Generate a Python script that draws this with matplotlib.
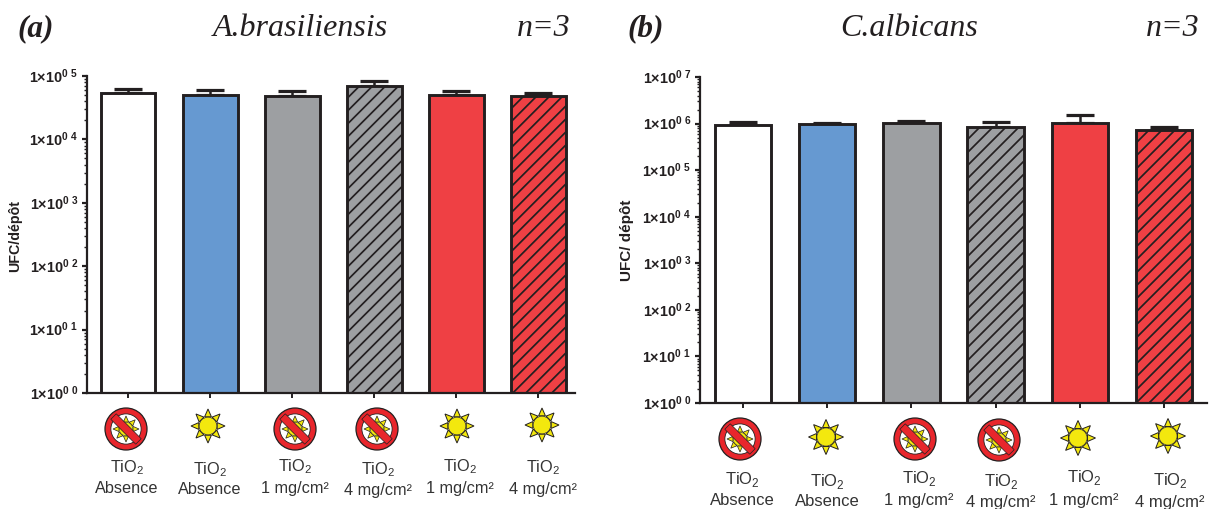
import matplotlib
matplotlib.use("Agg")
import matplotlib.pyplot as plt
import numpy as np
from matplotlib.collections import LineCollection
from matplotlib.patches import Circle, Polygon
from matplotlib.ticker import FixedLocator, NullFormatter
from matplotlib.transforms import Affine2D, IdentityTransform

plt.rcParams['font.family'] = ['Liberation Sans', 'DejaVu Sans']
plt.rcParams['mathtext.fontset'] = 'custom'
plt.rcParams['mathtext.rm'] = 'Liberation Sans'
plt.rcParams['mathtext.bf'] = 'Liberation Sans:bold'

W, H = 1211, 510
EDGE = '#231f20'
BLUE = '#6699d1'
GRAY = '#9d9fa2'
RED = '#ef4044'

# ── Data ───────────────────────────────────────────────────
conc_a = ["Absence", "Absence", "1 mg/cm²", "4 mg/cm²", "1 mg/cm²", "4 mg/cm²"]
conc_b = ["Absence", "Absence", "1 mg/cm²", "4 mg/cm²", "1 mg/cm²", "4 mg/cm²"]
no_light = [True, False, True, True, False, False]
colors = ['white', BLUE, GRAY, GRAY, RED, RED]
hatched = [False, False, False, True, False, True]

values_a = [54000, 50000, 48400, 69700, 50000, 48000]
errtop_a = [63500, 61000, 58000, 83000, 57500, 53500]
values_b = [950000, 1000000, 1020000, 860000, 1020000, 720000]
errtop_b = [1100000, 1030000, 1130000, 1070000, 1550000, 860000]


def px_axes(fig, left, top, right, bottom):
    return fig.add_axes([left / W, 1 - bottom / H, (right - left) / W, (bottom - top) / H])


def draw_sun(ov, cx, cy, r, lw=0.7):
    # 8 spikes then the disk
    for ang in np.arange(0, 360, 45):
        a = np.radians(ang)
        b = np.radians(90)
        tip = (cx + r * np.cos(a), cy + r * np.sin(a))
        base = r * 0.54
        half = r * 0.2
        p1 = (cx + base * np.cos(a) + half * np.cos(a + b), cy + base * np.sin(a) + half * np.sin(a + b))
        p2 = (cx + base * np.cos(a) - half * np.cos(a + b), cy + base * np.sin(a) - half * np.sin(a + b))
        ov.add_patch(Polygon([tip, p1, p2], fc='#f3e80e', ec=EDGE, lw=lw))
    ov.add_patch(Circle((cx, cy), r * 0.52, fc='#f3e80e', ec=EDGE, lw=lw * 0.7))


def draw_no_sun(ov, cx, cy, r):
    ov.add_patch(Circle((cx, cy), r, fc='#e8262c', ec=EDGE, lw=0.9))
    ov.add_patch(Circle((cx, cy), r * 0.72, fc='white', ec=EDGE, lw=0.6))
    draw_sun(ov, cx, cy, r * 0.62, lw=0.5)
    # diagonal stroke, upper left to lower right
    c, w = 0.707 * r * 0.84, 0.13 * r
    ov.add_patch(Polygon([(cx - c + w, cy - c - w), (cx + c + w, cy + c - w),
                          (cx + c - w, cy + c + w), (cx - c - w, cy - c + w)],
                         fc='#e8262c', ec=EDGE, lw=0.5))


def draw_panel(fig, box, xlim, values, errtop, decades):
    ax = px_axes(fig, *box)
    x = np.arange(len(values))
    heights = np.array(values) - 1
    bars = ax.bar(x, heights, bottom=1, width=0.67, color=colors, edgecolor=EDGE, linewidth=2.1, zorder=2)
    ax.errorbar(x, values, yerr=[np.zeros(len(values)), np.array(errtop) - np.array(values)],
                fmt='none', ecolor=EDGE, elinewidth=1.8, capsize=10, capthick=2.3, zorder=1)
    ax.set_yscale('log')
    ax.set_ylim(1, 10 ** decades)
    ax.set_xlim(*xlim)
    ax.set_xticks(x)
    ax.set_xticklabels([])
    ax.set_yticks([10.0 ** k for k in range(decades + 1)])
    ax.set_yticklabels([rf"$\mathbf{{1{{\times}}10^{{0\ {k}}}}}$" for k in range(decades + 1)],
                       fontsize=10.4, color='#231f20')
    minor = [m * 10.0 ** k for k in range(decades) for m in range(2, 10)]
    ax.yaxis.set_minor_locator(FixedLocator(minor))
    ax.yaxis.set_minor_formatter(NullFormatter())
    ax.tick_params(axis='y', which='major', length=3.8, width=1.6, pad=2.5, color=EDGE)
    ax.tick_params(axis='y', which='minor', length=2.3, width=1.0, color=EDGE)
    ax.tick_params(axis='x', length=3.6, width=1.4, color=EDGE)
    # labels sit on the main digits, not on the superscript
    for lab in ax.get_yticklabels():
        lab.set_transform(lab.get_transform() + Affine2D().translate(0, 2))
    for s in ('top', 'right'):
        ax.spines[s].set_visible(False)
    for s in ('left', 'bottom'):
        ax.spines[s].set_linewidth(1.6)
        ax.spines[s].set_color(EDGE)

    # hatching drawn in pixels so the line spacing can follow the original
    fig.canvas.draw()
    for bar, h in zip(bars, hatched):
        if not h:
            continue
        bb = bar.get_window_extent()
        offs = np.arange(bb.x0 - bb.height, bb.x1, 13.0)
        segs = [[(o, bb.y0), (o + bb.height, bb.y1)] for o in offs]
        lc = LineCollection(segs, colors=EDGE, linewidths=1.25, zorder=3, transform=IdentityTransform())
        ax.add_collection(lc, autolim=False)
        lc.set_clip_path(bar)
    return ax


def add_labels(ov, xs, y1, y2, conc, fs=11.7):
    for xc, a, b, t in zip(xs, y1, y2, conc):
        ov.text(xc, a, r"TiO$_{2}$", ha='center', va='center', fontsize=fs, color='#333333')
        ov.text(xc, b, t, ha='center', va='center', fontsize=fs, color='#333333')


fig = plt.figure(figsize=(W / 100, H / 100), dpi=100)

# panel a
draw_panel(fig, (87, 77, 575, 394), (-0.5, 5.45), values_a, errtop_a, 5)
# panel b
draw_panel(fig, (700, 78, 1207, 404), (-0.51, 5.51), values_b, errtop_b, 7)

ov = fig.add_axes([0, 0, 1, 1], zorder=5)
ov.set_xlim(0, W)
ov.set_ylim(H, 0)
ov.axis('off')

for xc, yc, off in zip([126, 208, 295, 377, 457, 542], [430, 427, 430, 430, 427, 426], no_light):
    draw_no_sun(ov, xc, yc, 21) if off else draw_sun(ov, xc, yc, 17)
add_labels(ov, [127, 210, 295, 378, 460, 543], [468, 470, 467, 470, 467, 468],
           [489, 490, 489, 491, 489, 490], conc_a)

for xc, yc, off in zip([740, 826, 915, 999, 1078, 1168], [440, 438, 440, 441, 439, 437], no_light):
    draw_no_sun(ov, xc, yc, 21) if off else draw_sun(ov, xc, yc, 17.5)
add_labels(ov, [742, 827, 919, 1001, 1084, 1170], [480, 482, 479, 482, 478, 481],
           [501, 502, 501, 503, 501, 503], conc_b, fs=12)

# titles
serif = ['Liberation Serif', 'DejaVu Serif']
for x, txt in [(17, "(a)"), (627, "(b)")]:
    ov.text(x, 29, txt, family=serif, style='italic', weight='bold', fontsize=22.5, ha='left', va='center', color=EDGE)
for x, txt in [(300, "A.brasiliensis"), (909, "C.albicans")]:
    ov.text(x, 29, txt, family=serif, style='italic', fontsize=23, ha='center', va='center', color=EDGE)
for x in (570, 1199):
    ov.text(x, 29, "n=3", family=serif, style='italic', fontsize=23, ha='right', va='center', color=EDGE)

ov.text(15.5, 236, "UFC/dépôt", rotation=90, ha='center', va='center', fontsize=10.3, weight='bold', color=EDGE)
ov.text(627, 240, "UFC/ dépôt", rotation=90, ha='center', va='center', fontsize=11, weight='bold', color=EDGE)

fig.savefig("out.png", dpi=100)
plt.close(fig)
